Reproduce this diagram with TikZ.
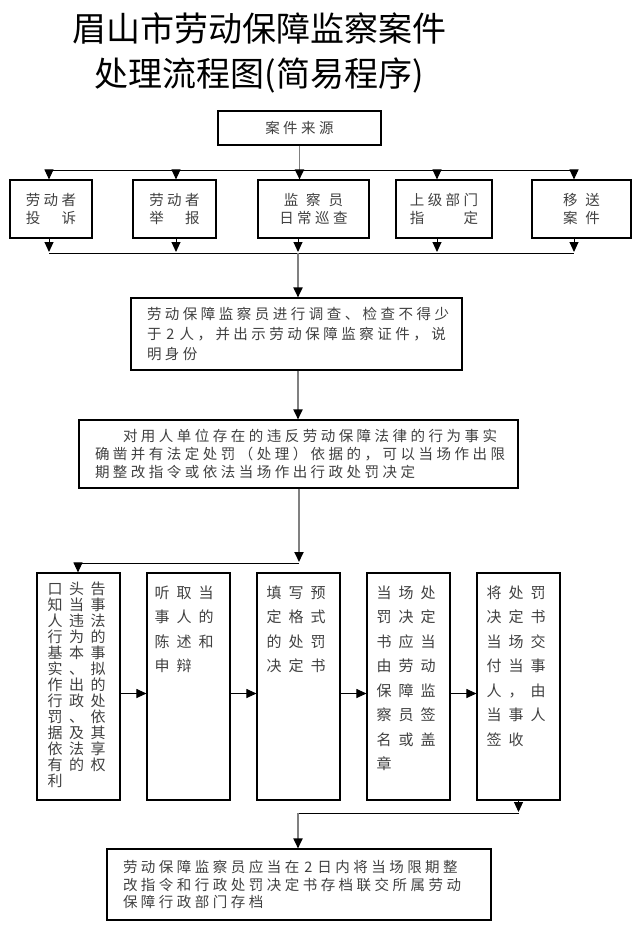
\documentclass[tikz,border=0pt]{standalone}
\usepackage{fontspec}
\newfontfamily\cjk[LetterSpace=24]{Noto Sans CJK SC}
\newfontfamily\cjkgrid[LetterSpace=43]{Noto Sans CJK SC}
\newfontfamily\cjkwide[LetterSpace=47]{Noto Sans CJK SC}
\newfontfamily\cjktitle{Noto Sans CJK SC}
\usetikzlibrary{arrows.meta}

\begin{document}
\begin{tikzpicture}[x=1pt,y=-1pt,
  box/.style={draw,line width=1.1pt,inner ysep=0pt,text=black!75,font=\fontsize{14.5}{18}\cjk},
  wbox/.style={box,align=left,inner xsep=16pt},
  vbox/.style={draw,line width=1.1pt,minimum width=83pt,minimum height=227pt},
  vtxt/.style={anchor=north west,inner sep=0pt,align=left,text=black!75,xshift=10pt,yshift=-13pt,font=\fontsize{15}{24.5}\cjkwide},
  bus/.style={line width=1pt},
  arr/.style={line width=1pt,-{Triangle[length=10pt,width=9pt]}},
  garr/.style={gray,line width=1.8pt,-{Triangle[length=10pt,width=9pt,color=black]}}]
  \useasboundingbox (0,0) rectangle (640,931);

  % title
  \node[font=\fontsize{34}{34}\cjktitle] (title1) at (259,28) {眉山市劳动保障监察案件};
  \node[font=\fontsize{34}{34}\cjktitle] (title2) at (259,75) {处理流程图(简易程序)};

  % sources
  \node[box,minimum width=163pt,minimum height=34pt] (src) at (299.5,128) {案件来源};
  \node[box,align=center,minimum width=82pt,minimum height=58pt] (b1) at (51,209) {劳动者\\投　诉};
  \node[box,align=center,minimum width=83pt,minimum height=58pt] (b2) at (174.5,209) {劳动者\\举　报};
  \node[box,align=center,minimum width=111pt,minimum height=58pt] (b3) at (313.5,209) {监\hspace{8pt}察\hspace{8pt}员\\日常巡查};
  \node[box,align=center,minimum width=96pt,minimum height=58pt] (b4) at (444,209) {上级部门\\指　　定};
  \node[box,align=center,minimum width=99pt,minimum height=58pt] (b5) at (581.5,209) {移\hspace{8pt}送\\案\hspace{8pt}件};

  \coordinate (ta) at (49,170);
  \coordinate (tb) at (574,170);
  \coordinate (ua) at (49,253);
  \coordinate (ub) at (574,253);
  \draw[garr] (src.south) -- (src.south |- b3.north);
  \draw[bus] (ta) -- (tb);
  \foreach \n/\x in {b1/49,b2/176,b4/437,b5/574}
    \draw[arr] (\x,0 |- ta) -- (\x,0 |- \n.north);
  \foreach \n/\x in {b1/49,b2/176,b3/298,b4/437,b5/574}
    \draw[arr] (\x,0 |- \n.south) -- (\x,252);
  \draw[bus] (ua) -- (ub);

  % investigation
  \node[wbox,text width=299pt,minimum width=331pt,minimum height=72pt,font=\fontsize{14.5}{20}\cjk] (inv) at (296.5,334)
    {劳动保障监察员进行调查、检查不得少\\于\hspace{5pt}2\hspace{5pt}人，并出示劳动保障监察证件，说\\明身份};
  \draw[garr] (298,0 |- ua) -- (298,0 |- inv.north);

  \node[wbox,text width=407pt,minimum width=439pt,minimum height=68pt] (fact) at (298.5,454)
    {\hspace*{28pt}对用人单位存在的违反劳动保障法律的行为事实\\确凿并有法定处罚（处理）依据的，可以当场作出限\\期整改指令或依法当场作出行政处罚决定};
  \draw[garr] (298,0 |- inv.south) -- (298,0 |- fact.north);

  % procedure steps
  \node[vbox] (v1) at (78.5,686.5) {};
  \node[vbox] (v2) at (188.5,686.5) {};
  \node[vbox] (v3) at (298.5,686.5) {};
  \node[vbox] (v4) at (408.5,686.5) {};
  \node[vbox] (v5) at (518.5,686.5) {};
  \node[vtxt,xshift=1pt,yshift=4pt,font=\fontsize{15}{16}\cjkgrid] (t1) at (v1.north west)
    {口头告\\知当事\\人违法\\行为的\\基本事\\实、拟\\作出的\\行政处\\罚、依\\据及其\\依法享\\有的权\\利};
  \node[vtxt,xshift=-2pt] (t2) at (v2.north west) {听取当\\事人的\\陈述和\\申辩};
  \node[vtxt] (t3) at (v3.north west) {填写预\\定格式\\的处罚\\决定书};
  \node[vtxt] (t4) at (v4.north west) {当场处\\罚决定\\书应当\\由劳动\\保障监\\察员签\\名或盖\\章};
  \node[vtxt] (t5) at (v5.north west) {将处罚\\决定书\\当场交\\付当事\\人，由\\当事人\\签收};

  \coordinate (fk) at (299,563);
  \coordinate (fl) at (78,563);
  \draw[garr] (fact.south -| fk) -- ([yshift=1pt]fk);
  \draw[bus] (fk) -- (fl);
  \draw[arr] (fl) -- (fl |- v1.north);
  \foreach \a/\b in {v1/v2,v2/v3,v3/v4,v4/v5}
    \draw[arr] ([yshift=-7pt]\a.east) -- ([yshift=-7pt]\b.west);

  % filing
  \node[wbox,text width=352pt,minimum width=384pt,minimum height=71pt,font=\fontsize{14.5}{17.5}\cjk] (last) at (299,884.5)
    {劳动保障监察员应当在\hspace{5pt}2\hspace{5pt}日内将当场限期整\\改指令和行政处罚决定书存档联交所属劳动\\保障行政部门存档};
  \coordinate (lk) at (519,813);
  \coordinate (ll) at (298,813);
  \draw[arr] (v5.south) -- ([yshift=1pt]v5.south |- lk);
  \draw[bus] (lk) -- (ll);
  \draw[garr] (ll) -- (ll |- last.north);
\end{tikzpicture}
\end{document}
